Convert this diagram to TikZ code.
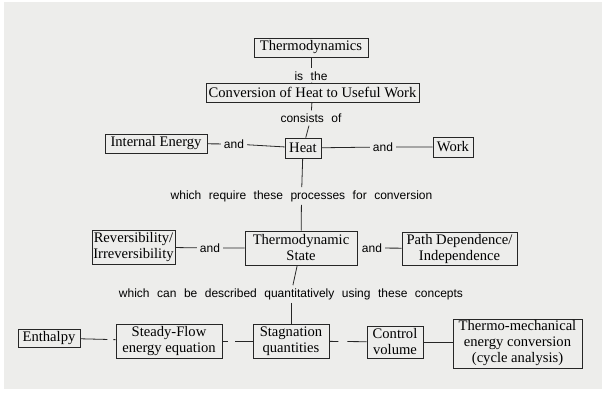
\documentclass[tikz,border=0pt]{standalone}
\usepackage{fontspec}
\setmainfont{Liberation Serif}
\newfontfamily\labelfont{Liberation Sans}
\usetikzlibrary{positioning}
\definecolor{paper}{RGB}{237,237,235}
\colorlet{linecol}{black!85}
\newcommand\linkwordfont{\labelfont\fontsize{12}{14}\selectfont\spaceskip=7.5pt plus 1pt\relax}
\tikzstyle{concept}=[draw=linecol,line width=0.8pt,align=center,inner sep=1pt,
  font=\fontsize{14.6}{16}\selectfont]
\tikzstyle{linkword}=[inner sep=3pt,font=\linkwordfont]
\tikzstyle{link}=[linecol,line width=0.8pt]

\begin{document}
\begin{tikzpicture}[x=1pt,y=-1pt]
  \useasboundingbox (0,0) rectangle (608,395);
  \fill[white] (0,0) rectangle (608,395);
  \fill[paper] (4,2) rectangle (602,389);
  % Concepts
  \node[concept,minimum width=114,minimum height=19] (thermo) at (311,47.5) {Thermodynamics};
  \node[concept,minimum width=213,minimum height=19] (conv) at (312.5,92.5) {Conversion of Heat to Useful Work};
  \node[concept,minimum width=102,minimum height=19] (inten) at (156,143.5) {Internal Energy};
  \node[concept,minimum width=36,minimum height=20] (heat) at (303,148) {Heat};
  \node[concept,minimum width=40,minimum height=20] (work) at (453,147) {Work};
  \node[concept,minimum width=83,minimum height=34] (rev) at (133.5,247) {Reversibility/\\Irreversibility};
  \node[concept,minimum width=112,minimum height=34] (state) at (301,248) {Thermodynamic\\State};
  \node[concept,minimum width=115,minimum height=33] (path) at (459.5,248.5) {Path Dependence/\\Independence};
  \node[concept,minimum width=62,minimum height=18] (enth) at (49,338) {Enthalpy};
  \node[concept,minimum width=106,minimum height=34] (sfee) at (169,341) {Steady-Flow\\energy equation};
  \node[concept,minimum width=76,minimum height=34] (stag) at (291,341) {Stagnation\\quantities};
  \node[concept,minimum width=56,minimum height=32] (cv) at (395,342) {Control\\volume};
  \node[concept,minimum width=129,minimum height=49] (tmec) at (517.5,343.5) {Thermo-mechanical\\energy conversion\\(cycle analysis)};
  % Linking words
  \node[linkword] (isthe) at (311,76) {is the};
  \node[linkword] (consists) at (311,118) {consists of};
  \node[linkword] (andie) at (234,144) {and};
  \node[linkword] (andwork) at (383,147) {and};
  \node[linkword] (require) at (301.5,196) {which require these processes for conversion};
  \node[linkword] (andrev) at (210,248) {and};
  \node[linkword] (andpath) at (372,248) {and};
  \node[linkword] (described) at (291,294) {which can be described quantitatively using these concepts};
  % Connectors
  \draw[link] (thermo) -- (isthe);
  \draw[link] (isthe) -- (conv);
  \draw[link] (conv) -- (consists);
  \draw[link] (consists) -- (heat);
  \draw[link] (inten) -- (andie) -- (heat);
  \draw[link] (heat) -- (andwork) -- (work);
  \draw[link] (heat) -- (require);
  \draw[link] (require) -- (state);
  \draw[link] (rev) -- (andrev) -- (state);
  \draw[link] (andpath) -- (path);
  \draw[link] (state) -- (described);
  \draw[link] (described) -- (stag);
  \draw[link,dash pattern=on 27pt off 6pt on 3pt off 10pt] (enth) -- (sfee);
  \draw[link,dash pattern=on 6pt off 7pt on 30pt] (sfee) -- (stag);
  \draw[link,dash pattern=on 9pt off 9pt on 30pt] (stag) -- (cv);
  \draw[link] (cv.east) -- (cv.east -| tmec.west);
\end{tikzpicture}
\end{document}
